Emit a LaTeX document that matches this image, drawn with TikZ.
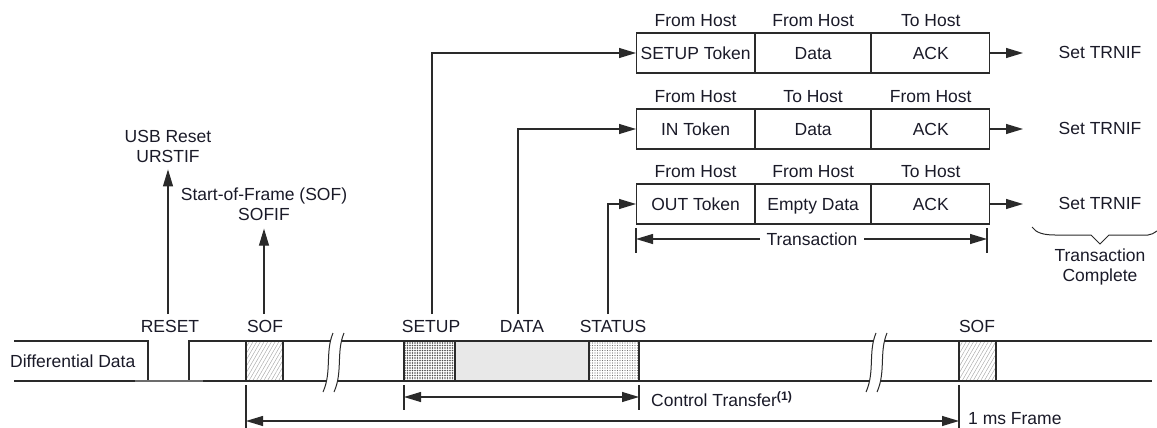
\documentclass[tikz,border=0pt]{standalone}
\usepackage{fontspec}
\setmainfont{Liberation Sans}
\usetikzlibrary{arrows.meta,patterns.meta}
\definecolor{ln}{HTML}{2A2A2A}
\definecolor{tx}{HTML}{1A1A28}
\begin{document}
\begin{tikzpicture}[x=1pt,y=-1pt,
  every node/.style={font=\fontsize{17.5}{20}\selectfont, text=tx, inner sep=0pt},
  sig/.style={draw=ln, line width=1.1pt},
  arr/.style={draw=ln, line width=1.1pt, -{Triangle[length=17pt,width=10pt]}},
  dimarr/.style={draw=ln, line width=1.1pt, {Triangle[length=17pt,width=10pt]}-{Triangle[length=17pt,width=10pt]}},
  cell/.style={draw=ln, line width=1.1pt, minimum height=40pt, inner sep=0pt, anchor=west, text height=12.5pt, text depth=0pt},
  hdr/.style={anchor=base, yshift=6pt},
  lbl/.style={anchor=center},
  brk/.style={draw=ln, line width=1pt},
  sofbox/.style={draw=ln, line width=1.1pt, fill=gray!12, pattern={Lines[angle=60,distance=3.2pt,line width=0.45pt]}, pattern color=gray!70},
  setupbox/.style={draw=ln, line width=1.1pt, pattern={Dots[distance=2.5pt,radius=0.8pt]}, pattern color=black!70},
  statusbox/.style={draw=ln, line width=1.1pt, pattern={Dots[distance=2.5pt,radius=0.6pt]}, pattern color=black!55}
]
\useasboundingbox (0,0) rectangle (1157,428);

% ---------------- signal ----------------
\draw[sig] (14,341) -- (148,341) -- (148,381);
\draw[sig] (14,381) -- (1152,381);
\draw[sig] (189,381) -- (189,341) -- (1152,341);
\draw[draw=gray!85!black, line width=2pt] (135,381) -- (203,381);

\fill[fill=gray!18] (455,341) rectangle (589,381);
\draw[sig] (455,341) rectangle (589,381);
\path[sofbox] (246,341) rectangle (283,381);
\path[setupbox] (404,341) rectangle (455,381);
\path[statusbox] (589,341) rectangle (639,381);
\path[sofbox] (959,341) rectangle (996,381);

% break marks
\fill[white] (333,333) .. controls (325,352) and (332,372) .. (323,392) -- (334,392) .. controls (343,372) and (336,352) .. (344,333) -- cycle;
\draw[brk] (333,333) .. controls (325,352) and (332,372) .. (323,392);
\draw[brk] (344,333) .. controls (336,352) and (343,372) .. (334,392);
\fill[white] (876,333) .. controls (868,352) and (875,372) .. (866,392) -- (877,392) .. controls (886,372) and (879,352) .. (887,333) -- cycle;
\draw[brk] (876,333) .. controls (868,352) and (875,372) .. (866,392);
\draw[brk] (887,333) .. controls (879,352) and (886,372) .. (877,392);

\node[anchor=west] (dd) at (10,361) {Differential Data};

% ---------------- labels ----------------
\node[lbl] (lreset) at (170,326) {RESET};
\node[lbl] (lsof) at (265,326) {SOF};
\node[lbl] (lsetup) at (431,326) {SETUP};
\node[lbl] (ldata) at (522,326) {DATA};
\node[lbl] (lstatus) at (613,326) {STATUS};
\node[lbl] (lsof2) at (977,326) {SOF};

\node[align=center] (usb) at (168,146) {USB Reset\\URSTIF};
\node[align=center] (sofif) at (264,204) {Start-of-Frame (SOF)\\SOFIF};

\coordinate (rstb) at (168,314);
\coordinate (sofb) at (264,314);
\draw[arr, shorten >=7pt] (rstb) -- (usb.south);
\draw[arr, shorten >=8pt] (sofb) -- (sofif.south);

% ---------------- transactions ----------------
\node[cell, minimum width=118pt] (r1a) at (636,53) {SETUP Token};
\node[cell, minimum width=115pt] (r1b) at (r1a.east) {Data};
\node[cell, minimum width=118pt] (r1c) at (r1b.east) {ACK};
\node[cell, minimum width=118pt] (r2a) at (636,129) {IN Token};
\node[cell, minimum width=115pt] (r2b) at (r2a.east) {Data};
\node[cell, minimum width=118pt] (r2c) at (r2b.east) {ACK};
\node[cell, minimum width=118pt] (r3a) at (636,204) {OUT Token};
\node[cell, minimum width=115pt] (r3b) at (r3a.east) {Empty Data};
\node[cell, minimum width=118pt] (r3c) at (r3b.east) {ACK};

\node[hdr] (h1a) at (r1a.north) {From Host};
\node[hdr] (h1b) at (r1b.north) {From Host};
\node[hdr] (h1c) at (r1c.north) {To Host};
\node[hdr] (h2a) at (r2a.north) {From Host};
\node[hdr] (h2b) at (r2b.north) {To Host};
\node[hdr] (h2c) at (r2c.north) {From Host};
\node[hdr] (h3a) at (r3a.north) {From Host};
\node[hdr] (h3b) at (r3b.north) {From Host};
\node[hdr] (h3c) at (r3c.north) {To Host};

\coordinate (setb) at (432,314);
\coordinate (datb) at (518,314);
\coordinate (stab) at (608,314);
\draw[arr] (setb) |- (r1a.west);
\draw[arr] (datb) |- (r2a.west);
\draw[arr] (stab) |- (r3a.west);

\node (f1) at (1100,52) {Set TRNIF};
\node (f2) at (1100,128) {Set TRNIF};
\node (f3) at (1100,203) {Set TRNIF};
\coordinate (e1) at (1023,53);
\coordinate (e2) at (1023,129);
\coordinate (e3) at (1023,204);
\draw[arr] (r1c.east) -- (e1);
\draw[arr] (r2c.east) -- (e2);
\draw[arr] (r3c.east) -- (e3);

% transaction dimension
\coordinate (tl) at (636,239);
\coordinate (tr) at (987,239);
\draw[sig] (636,228) -- (636,253);
\draw[sig] (987,228) -- (987,253);
\draw[dimarr] (tl) -- (tr);
\node[fill=white, inner xsep=7pt, inner ysep=2pt] (tlab) at (812,239) {Transaction};

% brace
\draw[draw=ln, line width=1pt] (1032,227) .. controls (1036,233) and (1044,235) .. (1055,235) -- (1091,235) -- (1100,244) -- (1109,235) -- (1148,235) .. controls (1151,235) and (1154,233) .. (1157,231);
\node[align=center] (tc) at (1100,267) {Transaction\\Complete};

% ---------------- bottom dimensions ----------------
\draw[sig] (404,385) -- (404,410);
\draw[sig] (639,385) -- (639,410);
\coordinate (ctl) at (404,397);
\coordinate (ctr) at (639,397);
\draw[dimarr] (ctl) -- (ctr);
\node[anchor=west] (ct) at (651,399) {Control Transfer\textsuperscript{\bfseries(1)}};

\draw[sig] (246,385) -- (246,428);
\draw[sig] (959,385) -- (959,428);
\coordinate (fl) at (246,421);
\coordinate (fr) at (959,421);
\draw[dimarr] (fl) -- (fr);
\node[anchor=west] (ms) at (968,419) {1 ms Frame};
\end{tikzpicture}
\end{document}
